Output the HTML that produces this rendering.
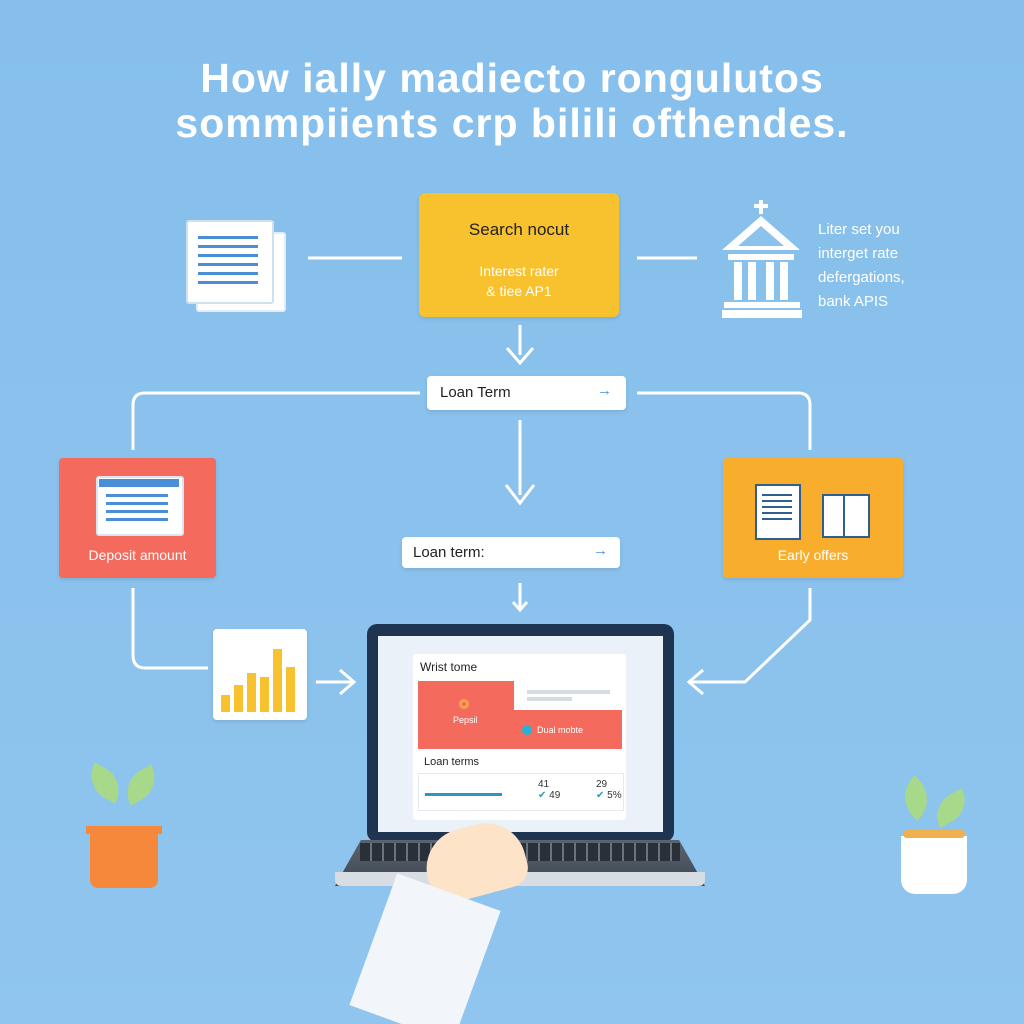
<!DOCTYPE html>
<html style="overflow:hidden;width:1024px;height:1024px"><head><meta charset="utf-8"><style>
body{margin:0;width:1024px;height:1024px;overflow:hidden;background:linear-gradient(#86bfec,#8fc5ee);font-family:"Liberation Sans",sans-serif;position:relative}
.a{position:absolute}
.t{color:#fff;font-weight:bold;font-size:41px;text-align:center;width:1024px;left:0;letter-spacing:1px}
.box{position:absolute;border-radius:4px;background:#fff;box-shadow:0 2px 4px rgba(0,0,0,.1)}
</style></head><body>
<div class="a t" style="top:55px">How ially madiecto rongulutos</div>
<div class="a t" style="top:100px">sommpiients crp bilili ofthendes.</div>

<svg class="a" style="left:0;top:0" width="1024" height="1024">
<g stroke="#fff" stroke-width="3" fill="none">
<line x1="308" y1="258" x2="402" y2="258"/><line x1="637" y1="258" x2="697" y2="258"/>
<line x1="520" y1="325" x2="520" y2="355"/><polyline points="507,348 520,363 533,348"/>
<path d="M420 393 H145 Q133 393 133 405 V450"/>
<path d="M637 393 H798 Q810 393 810 405 V450"/>
<line x1="520" y1="420" x2="520" y2="495"/><polyline points="506,485 520,503 534,485"/>
<line x1="520" y1="583" x2="520" y2="608"/><polyline points="513,602 520,610 527,602"/>
<path d="M133 588 V655 Q133 668 145 668 H208"/>
<line x1="316" y1="682" x2="352" y2="682"/><polyline points="340,670 354,682 340,694"/>
<path d="M810 588 V620 L745 682 H690"/><polyline points="703,670 689,682 703,694"/>
</g>
</svg>

<div class="a" style="left:196px;top:232px;width:86px;height:76px;background:#fff;border:2px solid #e3ecf5;border-radius:3px"></div>
<div class="a" style="left:186px;top:220px;width:84px;height:80px;background:#fff;border:2px solid #cfe0ef;border-radius:3px"></div>
<div class="a" style="left:198px;top:236px;width:60px;height:50px;background:repeating-linear-gradient(#4a8fd6 0 3px,transparent 3px 9px)"></div>

<div class="box" style="left:419px;top:193px;width:200px;height:124px;background:#f8c12e;border-radius:6px"></div>
<div class="a" style="left:419px;top:220px;width:200px;text-align:center;font-size:17px;color:#222">Search nocut</div>
<div class="a" style="left:419px;top:261px;width:200px;text-align:center;font-size:14px;color:#fff;line-height:20px">Interest rater<br>&amp; tiee AP1</div>

<svg class="a" style="left:718px;top:198px" width="90" height="122">
<g fill="#fff"><rect x="41" y="2" width="4" height="14"/><rect x="36" y="6" width="14" height="4"/>
<polygon points="43,18 4,52 82,52"/><rect x="10" y="56" width="66" height="6"/>
<rect x="16" y="64" width="8" height="38"/><rect x="30" y="64" width="8" height="38"/><rect x="48" y="64" width="8" height="38"/><rect x="62" y="64" width="8" height="38"/>
<rect x="6" y="104" width="76" height="6"/><rect x="4" y="112" width="80" height="8"/></g>
<polygon points="43,28 20,48 66,48" fill="#8cc3ec"/></svg>
<div class="a" style="left:818px;top:218px;font-size:15px;color:#fff;line-height:24px">Liter set you<br>interget rate<br>defergations,<br>bank APIS</div>

<div class="box" style="left:427px;top:376px;width:199px;height:34px"></div>
<div class="a" style="left:440px;top:384px;font-size:15px;color:#222">Loan Term</div>
<div class="a" style="left:597px;top:382px;font-size:15px;color:#4a8fd6">→</div>

<div class="box" style="left:59px;top:458px;width:157px;height:120px;background:#f46b5d"></div>
<div class="a" style="left:96px;top:476px;width:84px;height:56px;background:#fff;border-radius:3px;border:2px solid #d4e6f5"></div>
<div class="a" style="left:99px;top:479px;width:80px;height:8px;background:#4a8fd6"></div>
<div class="a" style="left:106px;top:494px;width:62px;height:30px;background:repeating-linear-gradient(#4a8fd6 0 3px,transparent 3px 8px)"></div>
<div class="a" style="left:59px;top:547px;width:157px;text-align:center;font-size:14px;color:#fff">Deposit amount</div>

<div class="box" style="left:723px;top:458px;width:180px;height:120px;background:#f8ae2c"></div>
<div class="a" style="left:755px;top:484px;width:42px;height:52px;background:#fff;border:2px solid #2f5f8f"></div>
<div class="a" style="left:762px;top:494px;width:30px;height:30px;background:repeating-linear-gradient(#2f5f8f 0 2px,transparent 2px 6px)"></div>
<div class="a" style="left:822px;top:494px;width:44px;height:40px;background:#fff;border:2px solid #2f5f8f"></div>
<div class="a" style="left:843px;top:494px;width:2px;height:42px;background:#2f5f8f"></div>
<div class="a" style="left:723px;top:547px;width:180px;text-align:center;font-size:14px;color:#fff">Early offers</div>

<div class="box" style="left:402px;top:537px;width:218px;height:31px"></div>
<div class="a" style="left:413px;top:544px;font-size:15px;color:#222">Loan term:</div>
<div class="a" style="left:593px;top:542px;font-size:15px;color:#4a8fd6">→</div>

<div class="box" style="left:213px;top:629px;width:94px;height:91px"></div>
<svg class="a" style="left:213px;top:629px" width="94" height="91"><g fill="#f8c12e">
<rect x="8" y="66" width="9" height="17"/><rect x="21" y="56" width="9" height="27"/><rect x="34" y="44" width="9" height="39"/><rect x="47" y="48" width="9" height="35"/><rect x="60" y="20" width="9" height="63"/><rect x="73" y="38" width="9" height="45"/></g></svg>

<div class="a" style="left:367px;top:624px;width:307px;height:218px;background:#1f3450;border-radius:10px"></div>
<div class="a" style="left:378px;top:636px;width:285px;height:196px;background:#eaf1f8"></div>
<div class="a" style="left:413px;top:654px;width:213px;height:166px;background:#fff;border-radius:3px"></div>
<div class="a" style="left:420px;top:660px;font-size:12px;color:#222">Wrist tome</div>
<div class="a" style="left:418px;top:681px;width:204px;height:68px;background:#f46b5d"></div>
<div class="a" style="left:514px;top:681px;width:108px;height:29px;background:#fff"></div>
<div class="a" style="left:527px;top:690px;width:83px;height:4px;background:#d6dce4"></div>
<div class="a" style="left:527px;top:697px;width:45px;height:4px;background:#d6dce4"></div>
<div class="a" style="left:459px;top:699px;width:10px;height:10px;border:3px solid #f8a050;border-radius:50%;box-sizing:border-box"></div>
<div class="a" style="left:453px;top:715px;font-size:9px;color:#fff">Pepsil</div>
<div class="a" style="left:522px;top:725px;width:10px;height:10px;background:#2ab0d0;border-radius:50%"></div>
<div class="a" style="left:537px;top:725px;font-size:9px;color:#fff">Dual mobte</div>
<div class="a" style="left:424px;top:756px;font-size:11px;color:#222">Loan terms</div>
<div class="a" style="left:418px;top:773px;width:204px;height:36px;border:1px solid #e6eaf0"></div>
<div class="a" style="left:425px;top:793px;width:77px;height:3px;background:#2a9ab8"></div>
<div class="a" style="left:538px;top:779px;font-size:10px;color:#333">41<br><span style="color:#2a9ab8">✔</span> 49</div>
<div class="a" style="left:596px;top:779px;font-size:10px;color:#333">29<br><span style="color:#2a9ab8">✔</span> 5%</div>
<div class="a" style="left:335px;top:840px;width:370px;height:46px;background:linear-gradient(#5a6470,#3e4650);clip-path:polygon(7% 0,93% 0,100% 100%,0 100%)"></div>
<div class="a" style="left:360px;top:843px;width:320px;height:18px;background:repeating-linear-gradient(90deg,#2a3038 0 10px,#6a7480 10px 12px)"></div>
<div class="a" style="left:335px;top:872px;width:370px;height:14px;background:#d8dde4;border-radius:0 0 6px 6px"></div>
<div class="a" style="left:425px;top:826px;width:100px;height:70px;background:#fde3c8;border-radius:40px 40px 20px 30px;transform:rotate(-15deg)"></div>
<div class="a" style="left:370px;top:888px;width:110px;height:140px;background:#f2f6fb;transform:rotate(20deg)"></div>

<div class="a" style="left:90px;top:830px;width:68px;height:58px;background:#f5883a;border-radius:0 0 8px 8px"></div>
<div class="a" style="left:86px;top:826px;width:76px;height:8px;background:#f5883a"></div>
<div class="a" style="left:86px;top:770px;width:38px;height:26px;background:#a8d88a;border-radius:0 30px 0 30px;transform:rotate(30deg)"></div>
<div class="a" style="left:122px;top:772px;width:38px;height:26px;background:#a8d88a;border-radius:30px 0 30px 0;transform:rotate(-30deg)"></div>
<div class="a" style="left:901px;top:836px;width:66px;height:58px;background:#fff;border-radius:0 0 14px 14px"></div>
<div class="a" style="left:903px;top:830px;width:62px;height:8px;background:#f0b050;border-radius:4px"></div>
<div class="a" style="left:898px;top:784px;width:36px;height:28px;background:#a8d88a;border-radius:0 30px 0 30px;transform:rotate(50deg)"></div>
<div class="a" style="left:932px;top:796px;width:38px;height:24px;background:#a8d88a;border-radius:30px 0 30px 0;transform:rotate(-30deg)"></div>
</body></html>
